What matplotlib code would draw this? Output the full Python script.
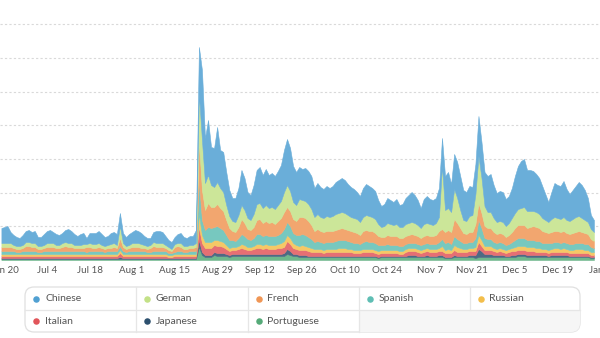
import matplotlib
matplotlib.use('Agg')
import matplotlib.pyplot as plt
import numpy as np
import pandas as pd
from matplotlib.patches import FancyBboxPatch, Rectangle
from matplotlib.colors import to_rgb

plt.rcParams['font.family'] = ['Lato', 'DejaVu Sans']

# daily values, Jun 19 .. Dec 31 (stack heights, one list per language)
dates = pd.date_range('2021-06-19', periods=196, freq='D')

chinese = [15, 16, 17, 11, 10, 9, 8, 10, 11, 12, 11, 12, 9, 9, 11, 12, 13, 11, 11, 10,
           10, 12, 14, 12, 11, 9, 11, 11, 6, 10, 11, 11, 12, 11, 9, 9, 11, 11, 11, 13,
           10, 9, 11, 11, 13, 12, 11, 9, 8, 7, 10, 12, 12, 11, 9, 7, 7, 7, 9, 10,
           9, 8, 9, 9, 13,
           47, 70, 45, 55, 38, 39, 55, 38, 40, 33, 26, 23, 24, 27, 35, 32, 26, 25, 29, 34,
           36, 33, 36, 33, 34, 33, 34, 36, 42, 46, 43, 36, 33, 32, 31, 33, 33, 33, 29, 31,
           30, 29, 30, 29, 30, 32, 33, 34, 33, 31, 30, 29, 27, 26, 29, 31, 30, 29, 28, 24,
           21, 22, 25, 24, 23,
           25, 22, 23, 26, 28, 30, 28, 25, 20, 25, 27, 25, 25, 25, 29, 28, 34, 36, 28, 35,
           36, 34, 30, 29, 30, 28, 30, 40, 36, 34, 36, 38, 33, 29, 30, 30, 27, 27, 30, 37,
           43, 47, 48, 41, 41, 40, 38, 36, 32, 26, 20, 27, 34, 33, 33, 36, 31, 27, 29, 31,
           34, 33, 30, 24, 14, 12]
german = [4, 4, 4, 4, 3, 3, 3, 3, 4, 4, 4, 4, 3, 3, 3, 4, 4, 4, 3, 3,
          4, 4, 4, 4, 3, 3, 3, 4, 3, 4, 4, 4, 4, 3, 3, 3, 4, 4, 3, 12,
          4, 3, 3, 4, 4, 4, 4, 3, 3, 3, 4, 4, 4, 4, 3, 3, 2, 3, 3, 4,
          3, 3, 3, 3, 4,
          47, 50, 27, 28, 22, 20, 22, 20, 19, 15, 12, 10, 10, 12, 14, 13, 11, 10, 13, 16,
          16, 15, 16, 15, 15, 15, 16, 17, 20, 22, 20, 17, 16, 18, 17, 17, 17, 16, 14, 15,
          14, 14, 15, 14, 15, 16, 16, 16, 16, 15, 14, 14, 14, 13, 14, 15, 15, 14, 14, 12,
          10, 11, 12, 12, 11,
          12, 11, 11, 12, 12, 12, 12, 11, 10, 12, 12, 12, 11, 12, 14, 63, 22, 22, 20, 30,
          25, 18, 13, 13, 16, 17, 30, 47, 35, 20, 16, 16, 14, 12, 12, 12, 11, 12, 14, 15,
          16, 17, 18, 17, 16, 15, 15, 14, 13, 12, 11, 13, 14, 13, 13, 14, 13, 13, 14, 15,
          15, 14, 13, 12, 10, 9]
french = [4, 4, 4, 4, 3, 3, 3, 3, 5, 5, 4, 4, 3, 3, 3, 4, 4, 4, 3, 3,
          4, 5, 4, 4, 3, 3, 3, 3, 5, 4, 3, 3, 4, 3, 3, 3, 3, 4, 3, 8,
          4, 3, 3, 4, 4, 4, 3, 3, 3, 4, 5, 4, 4, 4, 3, 3, 2, 5, 5, 4,
          3, 3, 3, 3, 4,
          40, 30, 20, 24, 21, 20, 22, 20, 19, 15, 12, 9, 9, 11, 15, 13, 10, 10, 11, 14,
          15, 13, 14, 13, 14, 12, 14, 15, 17, 15, 15, 14, 14, 18, 17, 17, 16, 14, 11, 12,
          11, 11, 11, 11, 11, 11, 11, 12, 11, 11, 11, 11, 10, 9, 11, 11, 11, 11, 10, 9,
          8, 8, 9, 9, 9,
          9, 8, 8, 8, 8, 9, 8, 8, 7, 8, 8, 8, 8, 9, 11, 10, 11, 12, 12, 17,
          16, 13, 10, 9, 10, 10, 14, 17, 15, 12, 11, 11, 10, 9, 9, 9, 8, 9, 10, 12,
          13, 13, 13, 12, 13, 14, 14, 13, 12, 11, 10, 11, 11, 11, 11, 11, 10, 10, 11, 11,
          12, 11, 11, 10, 8, 7]
spanish = [3, 3, 3, 3, 3, 2, 2, 3, 3, 3, 3, 3, 2, 2, 3, 3, 3, 3, 3, 3,
           3, 3, 3, 3, 3, 3, 3, 3, 2, 3, 3, 3, 3, 3, 2, 3, 3, 3, 3, 4,
           3, 2, 3, 3, 3, 3, 3, 3, 2, 2, 3, 3, 3, 3, 3, 2, 2, 2, 3, 3,
           2, 2, 3, 3, 3,
           33, 15, 12, 15, 14, 13, 14, 13, 12, 10, 8, 7, 6, 8, 10, 9, 8, 7, 8, 10,
           10, 9, 9, 9, 9, 9, 9, 10, 12, 13, 12, 10, 10, 11, 11, 11, 10, 9, 7, 8,
           7, 7, 7, 7, 7, 8, 8, 8, 8, 8, 7, 7, 7, 6, 7, 8, 7, 7, 7, 6,
           5, 5, 6, 5, 5,
           5, 5, 5, 5, 5, 5, 5, 5, 5, 5, 5, 5, 5, 5, 6, 7, 7, 7, 6, 9,
           8, 7, 6, 6, 6, 6, 9, 15, 12, 8, 7, 7, 6, 6, 6, 6, 5, 5, 6, 7,
           8, 8, 8, 7, 7, 7, 7, 7, 6, 6, 7, 6, 6, 6, 6, 6, 6, 6, 6, 6,
           6, 6, 6, 6, 5, 4]
russian = [2, 2, 2, 2, 2, 2, 2, 2, 2, 2, 2, 2, 2, 2, 2, 2, 2, 2, 2, 2,
           2, 2, 2, 2, 2, 2, 2, 2, 2, 2, 2, 2, 2, 2, 2, 2, 2, 2, 2, 3,
           2, 2, 2, 2, 2, 2, 2, 2, 2, 2, 2, 2, 2, 2, 2, 2, 2, 2, 2, 2,
           2, 2, 2, 2, 2,
           13, 8, 6, 6, 6, 5, 6, 5, 5, 4, 3, 3, 3, 3, 4, 4, 3, 3, 3, 4,
           4, 4, 4, 4, 4, 4, 4, 5, 6, 6, 6, 5, 4, 4, 5, 4, 4, 4, 3, 3,
           3, 3, 3, 3, 3, 3, 4, 4, 4, 3, 3, 3, 3, 3, 3, 3, 3, 3, 3, 3,
           3, 3, 3, 3, 3,
           3, 3, 3, 3, 3, 3, 3, 3, 3, 3, 3, 3, 3, 3, 3, 5, 3, 4, 3, 5,
           5, 4, 3, 3, 3, 3, 4, 7, 6, 4, 4, 4, 3, 3, 3, 3, 3, 3, 3, 4,
           4, 4, 4, 4, 4, 4, 4, 4, 3, 3, 3, 3, 4, 4, 3, 4, 3, 3, 3, 4,
           4, 4, 3, 3, 3, 3]
italian = [2, 2, 2, 2, 2, 2, 2, 2, 2, 2, 2, 2, 2, 2, 2, 2, 2, 2, 2, 2,
           2, 2, 2, 2, 2, 2, 2, 2, 2, 2, 2, 2, 2, 2, 2, 2, 2, 2, 2, 4,
           2, 2, 2, 2, 2, 2, 2, 2, 2, 2, 2, 2, 2, 2, 2, 1, 1, 2, 2, 2,
           2, 2, 2, 2, 2,
           13, 9, 7, 7, 7, 7, 7, 7, 6, 5, 4, 4, 4, 5, 6, 5, 4, 4, 5, 6,
           6, 5, 6, 5, 5, 5, 6, 6, 6, 8, 7, 6, 5, 5, 5, 5, 5, 4, 4, 4,
           4, 3, 4, 4, 4, 4, 4, 4, 4, 4, 4, 3, 3, 3, 4, 4, 4, 4, 3, 3,
           3, 3, 3, 3, 3,
           3, 2, 2, 4, 4, 4, 4, 4, 3, 4, 4, 4, 4, 4, 4, 4, 4, 4, 4, 5,
           4, 4, 4, 4, 4, 4, 4, 7, 5, 4, 4, 4, 4, 3, 4, 3, 3, 4, 4, 4,
           4, 4, 4, 4, 4, 4, 3, 3, 3, 3, 3, 3, 3, 3, 3, 3, 3, 3, 3, 3,
           3, 3, 3, 3, 2, 2]
japanese = [1, 1, 1, 1, 1, 1, 1, 1, 1, 1, 1, 1, 1, 1, 1, 1, 1, 1, 1, 1,
            1, 1, 1, 1, 1, 1, 1, 1, 1, 1, 1, 1, 1, 1, 1, 1, 1, 1, 1, 2,
            1, 1, 1, 1, 1, 1, 1, 1, 1, 1, 1, 1, 1, 1, 1, 1, 1, 1, 1, 1,
            1, 1, 1, 1, 1,
            7, 3, 2, 2, 2, 3, 3, 3, 3, 2, 2, 2, 2, 2, 2, 2, 2, 2, 2, 2,
            2, 2, 2, 2, 2, 2, 2, 2, 3, 5, 4, 2, 2, 2, 2, 2, 1, 1, 1, 1,
            1, 1, 1, 1, 1, 1, 1, 1, 1, 1, 1, 1, 1, 1, 1, 1, 1, 1, 1, 1,
            1, 1, 1, 1, 1,
            1, 1, 1, 1, 2, 2, 2, 1, 1, 1, 2, 1, 1, 1, 2, 2, 1, 1, 1, 2,
            1, 1, 1, 1, 2, 2, 3, 8, 6, 3, 3, 3, 2, 2, 2, 2, 1, 1, 2, 2,
            2, 2, 2, 2, 2, 2, 2, 2, 2, 2, 1, 2, 2, 2, 2, 2, 2, 1, 1, 1,
            1, 1, 1, 1, 1, 1]
portuguese = [1, 1, 1, 1, 1, 1, 1, 1, 1, 1, 1, 1, 1, 1, 1, 1, 1, 1, 1, 1,
              1, 1, 1, 1, 1, 1, 1, 1, 1, 1, 1, 1, 1, 1, 1, 1, 1, 1, 1, 1,
              1, 1, 1, 1, 1, 1, 1, 1, 1, 1, 1, 1, 1, 1, 1, 1, 1, 1, 1, 1,
              1, 1, 1, 1, 1,
              13, 5, 3, 3, 3, 5, 4, 4, 4, 4, 3, 4, 4, 4, 4, 4, 4, 4, 4, 4,
              4, 4, 4, 4, 4, 4, 4, 4, 4, 6, 5, 4, 4, 3, 3, 3, 3, 3, 3, 3,
              3, 3, 3, 3, 3, 3, 3, 3, 3, 3, 3, 3, 3, 3, 3, 3, 3, 3, 3, 2,
              3, 3, 3, 3, 3,
              3, 3, 3, 3, 3, 3, 3, 3, 3, 3, 3, 3, 3, 3, 3, 3, 2, 2, 2, 3,
              3, 3, 3, 3, 3, 3, 2, 3, 3, 3, 3, 3, 3, 3, 3, 3, 3, 3, 3, 3,
              4, 4, 4, 3, 3, 3, 3, 3, 3, 3, 3, 3, 3, 3, 3, 3, 3, 3, 3, 3,
              3, 3, 3, 3, 2, 2]

languages = ['Chinese', 'German', 'French', 'Spanish', 'Russian',
             'Italian', 'Japanese', 'Portuguese']
colors = ['#50a0d2', '#c3e187', '#f09655', '#5fbeb4', '#f3be4b',
          '#e1555a', '#2d506e', '#55aa78']

tick_dates = pd.date_range('2021-06-20', periods=15, freq='14D')
tick_labels = [f'{d:%b} {d.day}' for d in tick_dates]


def lighten(c, k=0.85):
    r = np.array(to_rgb(c))
    return tuple(r * k + (1 - k))


fig = plt.figure(figsize=(6, 3.38), dpi=100)
ax = fig.add_axes([0, 78 / 338, 1, 260 / 338])

series = [chinese, german, french, spanish, russian, italian, japanese, portuguese]
fills = [lighten(c) for c in colors]
# bottom layer first
polys = ax.stackplot(dates, *series[::-1], colors=fills[::-1], linewidth=0.4)
for p, c in zip(polys, fills[::-1]):
    p.set_edgecolor(c)

ax.set_ylim(0, 260)
ax.set_yticks(np.arange(1, 8) * 33.67)
ax.yaxis.grid(True, color='#d9d9d9', linestyle=(0, (2, 2)), linewidth=0.8)
ax.set_axisbelow(True)
ax.tick_params(axis='y', length=0, labelleft=False)

x0 = tick_dates[0] - pd.Timedelta(days=1.46)
ax.set_xlim(x0, x0 + pd.Timedelta(days=600 / 3.074))
ax.set_xticks(tick_dates)
ax.set_xticklabels(tick_labels, fontsize=7, color='#555555')
ax.tick_params(axis='x', length=0, pad=4)
for s in ax.spines.values():
    s.set_visible(False)

# legend box, drawn in pixel coordinates
lax = fig.add_axes([0, 0, 1, 1])
lax.set_xlim(0, 600)
lax.set_ylim(338, 0)
lax.axis('off')

box = FancyBboxPatch((25, 287), 555, 45, boxstyle='round,pad=0,rounding_size=9',
                     fc='white', ec='#e0e0e0', lw=0.9, zorder=1)
lax.add_patch(box)
empty = Rectangle((358.5, 310), 230, 30, fc='#f6f6f6', ec='none', zorder=1.5)
lax.add_patch(empty)
empty.set_clip_path(box)

col_x = [25, 135.5, 247.5, 358.5, 469.5]
row_y = [298.5, 321]
lax.plot([25, 580], [310, 310], color='#e6e6e6', lw=0.9, zorder=2)
for cx in col_x[1:4]:
    lax.plot([cx, cx], [287, 332], color='#e6e6e6', lw=0.9, zorder=2)
lax.plot([469.5, 469.5], [287, 310], color='#e6e6e6', lw=0.9, zorder=2)

for i, (name, c) in enumerate(zip(languages, colors)):
    cx = col_x[i % 5]
    cy = row_y[i // 5]
    lax.scatter([cx + 11], [cy], s=22, color=c, zorder=3, linewidths=0)
    lax.text(cx + 20, cy, name, fontsize=7.5, color='#555555', va='center', ha='left', zorder=3)

fig.savefig('out.png', dpi=100)
